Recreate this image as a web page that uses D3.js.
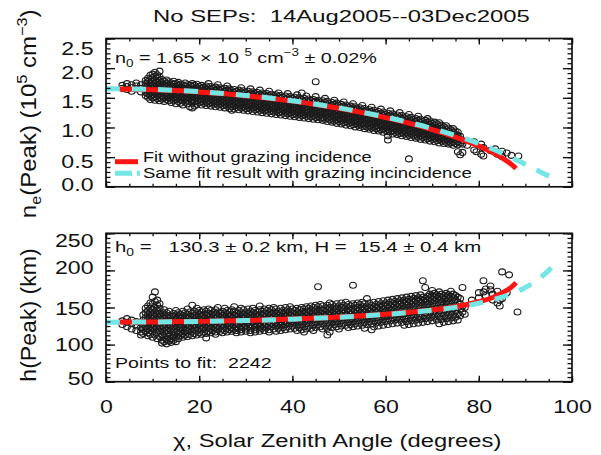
<!DOCTYPE html>
<html>
<head>
<meta charset="utf-8">
<script src="https://cdn.jsdelivr.net/npm/d3@7"></script>
<style>
  html, body { margin: 0; padding: 0; background: #fff; }
  svg { display: block; }
  text { font-family: "Liberation Sans", Arial, Helvetica, sans-serif; fill: #111; }
</style>
</head>
<body>
<svg id="chart" width="601" height="455"></svg>
<script>
// ---------------- data ----------------
const chiTicks = [0, 20, 40, 60, 80, 100];
const neTicks = [0, 0.5, 1.0, 1.5, 2.0, 2.5];
const hTicks = [50, 100, 150, 200, 250];

const titleText = "No SEPs:  14Aug2005--03Dec2005";
const xLabelText = "\u03c7, Solar Zenith Angle (degrees)";
const legendLabels = ["Fit without grazing incidence", "Same fit result with grazing incincidence"];
const pointsText = "Points to fit:  2242";

// peak density fit (10^5 cm^-3) without / with grazing incidence
const neFitChi = [3, 10, 15, 20, 25, 30, 35, 40, 45, 50, 55, 60, 65, 70, 75, 80, 83, 85, 87, 88];
const neFitVal = [1.649, 1.637, 1.622, 1.599, 1.571, 1.535, 1.493, 1.444, 1.387, 1.323, 1.250, 1.167, 1.073, 0.965, 0.839, 0.688, 0.576, 0.487, 0.378, 0.308];
const neGrazChi = [0, 10, 20, 30, 40, 50, 60, 65, 70, 75, 80, 85, 88, 90, 92, 95, 97];
const neGrazVal = [1.654, 1.642, 1.604, 1.540, 1.449, 1.330, 1.176, 1.085, 0.982, 0.864, 0.728, 0.568, 0.457, 0.379, 0.299, 0.182, 0.116];

// peak altitude fit (km) without / with grazing incidence
const hFitChi = [3, 10, 20, 30, 40, 50, 60, 65, 70, 75, 80, 83, 85, 87, 88];
const hFitVal = [130.3, 130.5, 131.3, 132.5, 134.4, 137.1, 141.0, 143.6, 146.8, 151.1, 157.8, 163.5, 169.5, 177.5, 183.5];
const hGrazChi = [0, 10, 20, 30, 40, 50, 60, 65, 70, 75, 80, 85, 88, 90, 92, 95, 97];
const hGrazVal = [130.2, 130.5, 131.2, 132.4, 134.3, 136.9, 140.7, 143.2, 146.3, 150.2, 155.8, 164.0, 171.0, 177.0, 184.5, 200.0, 214.0];

// measured peak density: [chi, n_e values at that chi ...]
const neScatter = [
  [3.5,1.66,1.71],[4.5,1.64,1.69,1.74],[5.5,1.61,1.67,1.72],[6.5,1.65,1.70,1.75],[7.5,1.60,1.66,1.72],
  [8.5,1.54,1.59,1.64,1.69,1.74,1.79],[9,1.51,1.57,1.62,1.67,1.72,1.77,1.83],[9.5,1.47,1.53,1.59,1.64,1.70,1.75,1.81,1.88],
  [10,1.50,1.55,1.61,1.66,1.72,1.78,1.84,1.90],[10.5,1.46,1.52,1.58,1.63,1.69,1.74,1.80,1.86,1.93],[11,1.49,1.55,1.60,1.66,1.71,1.77,1.83,1.89],
  [11.5,1.45,1.51,1.57,1.62,1.68,1.73,1.79,1.85,1.95],[12,1.48,1.53,1.59,1.64,1.70,1.75,1.81],[12.5,1.44,1.50,1.56,1.61,1.67,1.72,1.78],
  [13,1.47,1.52,1.58,1.63,1.69,1.74,1.80],[13.5,1.45,1.50,1.55,1.61,1.66,1.72,1.77],[14,1.42,1.48,1.53,1.59,1.64,1.70,1.75],
  [14.5,1.46,1.51,1.57,1.62,1.67,1.73,1.78],[15,1.40,1.47,1.52,1.58,1.63,1.69,1.74],[15.5,1.44,1.49,1.55,1.60,1.66,1.71,1.76],
  [16,1.41,1.47,1.52,1.57,1.63,1.68,1.73],[16.5,1.38,1.45,1.50,1.56,1.61,1.66,1.72],[17,1.43,1.48,1.54,1.59,1.64,1.70,1.75],
  [17.5,1.40,1.46,1.51,1.57,1.62,1.67,1.72],[18,1.35,1.44,1.49,1.55,1.60,1.65,1.71],[18.5,1.33,1.41,1.47,1.52,1.58,1.63,1.69,1.74],
  [19,1.36,1.44,1.50,1.55,1.61,1.66,1.71],[19.5,1.39,1.45,1.51,1.56,1.62,1.67,1.73],[20,1.42,1.47,1.53,1.58,1.64,1.69],
  [20.5,1.38,1.44,1.49,1.55,1.60,1.66,1.71],[21,1.41,1.46,1.52,1.57,1.63,1.68],[21.5,1.37,1.43,1.48,1.54,1.59,1.65,1.70],
  [22,1.40,1.45,1.51,1.56,1.62,1.67,1.74],[22.5,1.36,1.42,1.47,1.53,1.58,1.64,1.69],[23,1.39,1.44,1.50,1.55,1.61,1.66],
  [23.5,1.35,1.41,1.46,1.52,1.57,1.63,1.68],[24,1.38,1.43,1.49,1.54,1.60,1.65,1.72],[24.5,1.34,1.40,1.45,1.51,1.56,1.62,1.67],
  [25,1.37,1.42,1.48,1.53,1.59,1.64],[25.5,1.33,1.39,1.44,1.50,1.55,1.61,1.66],[26,1.36,1.41,1.47,1.52,1.58,1.63,1.70],
  [26.5,1.32,1.38,1.43,1.49,1.54,1.60,1.65],[27,1.29,1.35,1.40,1.46,1.51,1.57,1.62],[27.5,1.31,1.37,1.42,1.48,1.53,1.59,1.64],
  [28,1.34,1.39,1.45,1.50,1.56,1.61],[28.5,1.30,1.36,1.41,1.47,1.52,1.58,1.63],[29,1.33,1.38,1.44,1.49,1.55,1.60,1.67],
  [29.5,1.29,1.35,1.40,1.46,1.51,1.57,1.62],[30,1.32,1.37,1.43,1.48,1.54,1.59],[30.5,1.28,1.34,1.39,1.45,1.50,1.56,1.61],
  [31,1.31,1.36,1.42,1.47,1.53,1.58,1.65],[31.5,1.27,1.33,1.38,1.44,1.49,1.55,1.60],[32,1.30,1.35,1.41,1.46,1.52,1.57],
  [32.5,1.26,1.32,1.37,1.43,1.48,1.54,1.59],[33,1.29,1.34,1.40,1.45,1.51,1.56,1.63],[33.5,1.25,1.31,1.36,1.42,1.47,1.53,1.58],
  [34,1.28,1.33,1.39,1.44,1.50,1.55],[34.5,1.24,1.30,1.35,1.41,1.46,1.52,1.57],[35,1.27,1.32,1.38,1.43,1.49,1.54,1.61],
  [35.5,1.23,1.29,1.34,1.40,1.45,1.51,1.56],[36,1.26,1.31,1.36,1.42,1.47,1.53],[36.5,1.22,1.28,1.33,1.39,1.44,1.50,1.55],
  [37,1.25,1.30,1.35,1.41,1.46,1.52,1.58],[37.5,1.21,1.27,1.32,1.38,1.43,1.49,1.54],[38,1.24,1.29,1.34,1.40,1.45,1.51],
  [38.5,1.20,1.26,1.31,1.37,1.42,1.48,1.53],[39,1.23,1.28,1.33,1.39,1.44,1.50,1.57],[39.5,1.19,1.25,1.30,1.36,1.41,1.47,1.52],
  [40,1.22,1.27,1.32,1.38,1.43,1.49],[40.5,1.18,1.24,1.29,1.35,1.40,1.46,1.51],[41,1.21,1.26,1.31,1.37,1.42,1.48,1.55],
  [41.5,1.17,1.23,1.28,1.34,1.39,1.45,1.50],[42,1.20,1.25,1.30,1.36,1.41,1.47,1.58],[42.5,1.16,1.22,1.27,1.33,1.38,1.44,1.49],
  [43,1.19,1.24,1.29,1.35,1.40,1.46,1.53],[43.5,1.15,1.21,1.26,1.32,1.37,1.43,1.48],[44,1.18,1.23,1.28,1.34,1.39,1.45],
  [44.5,1.14,1.20,1.25,1.31,1.36,1.42,1.47],[45,1.17,1.22,1.27,1.33,1.38,1.44,1.52,1.77],[45.5,1.13,1.19,1.24,1.30,1.35,1.41,1.46],
  [46,1.16,1.21,1.26,1.32,1.37,1.43],[46.5,1.12,1.17,1.23,1.28,1.34,1.39,1.45],[47,1.14,1.20,1.25,1.31,1.36,1.42,1.49],
  [47.5,1.10,1.16,1.22,1.27,1.33,1.38,1.44],[48,1.13,1.18,1.24,1.29,1.35,1.40],[48.5,1.09,1.15,1.20,1.26,1.31,1.37,1.42],
  [49,1.11,1.17,1.22,1.28,1.33,1.39,1.46],[49.5,1.07,1.13,1.19,1.24,1.30,1.35,1.41],[50,1.10,1.15,1.21,1.26,1.32,1.37],
  [50.5,1.06,1.12,1.17,1.23,1.28,1.34,1.39],[51,1.08,1.14,1.19,1.25,1.30,1.36,1.43],[51.5,1.04,1.10,1.16,1.21,1.27,1.32,1.38],
  [52,1.07,1.12,1.18,1.23,1.29,1.34],[52.5,1.03,1.09,1.14,1.20,1.25,1.31,1.36],[53,1.05,1.11,1.16,1.22,1.27,1.33,1.40],
  [53.5,1.01,1.07,1.13,1.18,1.24,1.29,1.35],[54,1.04,1.09,1.15,1.20,1.26,1.31],[54.5,1.00,1.06,1.11,1.17,1.22,1.28,1.33],
  [55,1.02,1.08,1.13,1.19,1.24,1.30,1.37],[55.5,0.98,1.04,1.10,1.15,1.21,1.26,1.32],[56,1.01,1.06,1.12,1.17,1.23,1.28],
  [56.5,0.97,1.03,1.08,1.14,1.19,1.25,1.30],[57,0.99,1.05,1.10,1.16,1.21,1.27,1.34],[57.5,0.95,1.01,1.07,1.12,1.18,1.23,1.29],
  [58,0.98,1.03,1.09,1.14,1.20,1.25],[58.5,0.94,1.00,1.05,1.11,1.16,1.22,1.27],[59,0.96,1.02,1.07,1.13,1.18,1.24,1.31],
  [59.5,0.92,0.98,1.04,1.09,1.15,1.20,1.26],[60,0.95,1.00,1.06,1.11,1.17,1.22],[60.5,0.79,0.86,0.93,0.97,1.02,1.08,1.13,1.19,1.24],
  [61,0.93,0.99,1.04,1.10,1.15,1.21,1.28],[61.5,0.89,0.95,1.01,1.06,1.12,1.17,1.23],[62,0.92,0.97,1.03,1.08,1.14,1.19],
  [62.5,0.88,0.94,0.99,1.05,1.10,1.16,1.21],[63,0.90,0.96,1.01,1.07,1.12,1.18,1.25],[63.5,0.86,0.92,0.98,1.03,1.09,1.14,1.20],
  [64,0.89,0.94,1.00,1.05,1.11,1.16],[64.5,0.85,0.91,0.96,1.02,1.07,1.13,1.18],[65,0.47,0.87,0.93,0.98,1.04,1.09,1.15,1.22],
  [65.5,0.83,0.89,0.95,1.00,1.06,1.11,1.17],[66,0.86,0.91,0.97,1.02,1.08,1.13],[66.5,0.82,0.88,0.93,0.99,1.04,1.10,1.15],
  [67,0.84,0.90,0.95,1.01,1.06,1.12,1.19],[67.5,0.80,0.86,0.92,0.97,1.03,1.08,1.14],[68,0.83,0.88,0.94,0.99,1.05,1.10],
  [68.5,0.79,0.85,0.90,0.96,1.01,1.07,1.12],[69,0.81,0.87,0.92,0.98,1.03,1.09,1.15],[69.5,0.77,0.83,0.89,0.94,1.00,1.05,1.11],
  [70,0.80,0.85,0.91,0.96,1.02,1.07],[70.5,0.76,0.82,0.87,0.93,0.98,1.04,1.09],[71,0.78,0.84,0.89,0.95,1.00,1.06],
  [71.5,0.74,0.80,0.86,0.91,0.97,1.02,1.08],[72,0.77,0.82,0.88,0.93,0.99,1.04],[72.5,0.73,0.79,0.84,0.90,0.95,1.01],
  [73,0.75,0.81,0.86,0.92,0.97,1.03],[73.5,0.72,0.77,0.83,0.88,0.94,0.99],[74,0.74,0.79,0.85,0.90,0.96],
  [74.5,0.70,0.76,0.81,0.87,0.92,0.98],[75,0.73,0.78,0.84,0.89,0.94],[75.5,0.59,0.71,0.76,0.82,0.87,0.92],
  [76,0.54,0.74,0.80,0.85],[76.5,0.58,0.72,0.78],[77.5,0.70],[79,0.62,0.76],[79.5,0.59],[80.5,0.72,0.55],
  [81,0.52,0.66],[82.5,0.61],[83.5,0.59,0.64],[84,0.55],[85,0.60,0.51],[86,0.57],[87,0.53],[88.5,0.52]
];

// measured peak altitude: [chi, h values (km) at that chi ...]
const hScatter = [
  [3.5,127,132],[4.5,124,130,135],[5.5,121,128,133],[6.5,119,125,131],[7.5,113,117,123,129],
  [8,115,121,127,133,140],[8.5,118,124,130,136,143,149],[9,112,116,122,128,134,140,146,152],
  [9.5,114,119,125,131,137,143,149,156],[10,110,117,123,129,135,141,147,155,164],[10.5,113,120,126,132,138,144,150,158,171],
  [11,108,116,122,128,134,140,146,153,160],[11.5,111,118,124,130,136,142,149,155],[12,102,106,114,120,126,132,138,144],
  [12.5,104,110,117,123,129,135,141,147],[13,101,107,113,119,125,131,137,143],[13.5,105,111,116,122,127,133,139,145],
  [14,103,108,114,120,126,132,138],[14.5,106,112,118,124,130,136,142],[15,104,110,116,122,128,134,140,146],
  [15.5,108,114,119,125,131,137,143],[16,112,117,123,129,135,141],[16.5,110,115,121,127,133,139,145],
  [17,113,119,125,131,137,143],[17.5,111,117,123,129,135,141,148],[18,114,120,126,132,138,144],
  [18.5,112,118,124,130,136,142,153],[19,115,121,127,133,139,145],[19.5,113,119,125,131,137,143,149],
  [20,116,122,128,134,140,146],[20.5,114,120,126,132,138,144],[21,117,123,129,135,141,147],
  [21.5,109,115,121,127,133,139,145],[22,118,124,130,136,142,148],[22.5,116,122,128,134,140,146],
  [23,119,125,131,137,143],[23.5,114,117,123,129,135,141,147],[24,120,126,132,138,144,150],
  [24.5,118,124,130,136,142],[25,116,121,127,133,139,145],[25.5,119,125,131,137,143,149],
  [26,117,122,128,134,140,146],[26.5,120,126,132,138,144],[27,118,123,129,135,141,147],
  [27.5,121,127,133,139,145,151],[28,116,119,124,130,136,142],[28.5,122,128,134,140,146],
  [29,117,120,125,131,137,143,149],[29.5,123,129,135,141,147],[30,118,121,126,132,138,144],
  [30.5,124,130,136,142,148],[31,116,119,122,127,133,139,145],[31.5,125,131,137,143,149],
  [32,117,120,123,128,134,140,146],[32.5,126,132,138,144],[33,118,121,124,129,135,141,147,152],
  [33.5,122,127,133,139,145],[34,119,125,130,136,142,148],[34.5,123,128,134,140,146],
  [35,117,120,126,131,137,143,149],[35.5,124,129,135,141,147],[36,121,127,132,138,144,150],
  [36.5,118,125,130,136,142,148],[37,122,128,133,139,145],[37.5,119,126,131,137,143,149],
  [38,123,129,134,140,146],[38.5,120,127,132,138,144,150],[39,124,130,135,141,147],
  [39.5,121,128,133,139,145,151],[40,125,131,136,142,148],[40.5,122,129,134,140,146],
  [41,119,126,132,137,143,149],[41.5,123,130,135,141,147],[42,120,127,133,138,144,150],
  [42.5,117,124,131,136,142,148],[43,121,128,134,139,145,151],[43.5,125,132,137,143,149],
  [44,122,129,135,140,146,152],[44.5,119,126,133,138,144,150],[45,123,130,136,141,147,153],
  [45.5,127,134,139,145,151,178],[46,124,131,137,142,148,154],[46.5,121,128,135,140,146,152],
  [47,125,132,138,143,149],[47.5,113,122,129,136,141,147,153],[48,117,126,133,139,144,150,156],
  [48.5,123,130,137,142,148,154],[49,127,134,140,145,151],[49.5,124,131,138,143,149,155],
  [50,121,128,135,141,146,152],[50.5,125,132,139,144,150,156],[51,129,136,142,147,153],
  [51.5,126,133,140,145,151,157],[52,123,130,137,143,148,154],[52.5,127,134,141,146,152],
  [53,124,131,138,144,149,155,180],[53.5,128,135,142,147,153],[54,125,132,139,145,150,156],
  [54.5,129,136,143,148,154],[55,126,133,140,146,151,157],[55.5,122,130,137,144,149,155],
  [56,127,134,141,147,152,162],[56.5,131,138,145,150,156],[57,120,128,135,142,148,153],
  [57.5,124,132,139,146,151,157],[58,129,136,143,149,154],[58.5,125,133,140,147,152,158],
  [59,130,137,144,150,155],[59.5,126,134,141,148,153,159],[60,131,138,145,151,156],
  [60.5,127,135,142,149,154,160],[61,132,139,146,152,157],[61.5,128,136,143,150,155,161],
  [62,133,140,147,153,158],[62.5,129,137,144,151,156,162],[63,134,141,148,154,159],
  [63.5,130,138,145,152,157,163],[64,126,135,142,149,155,160],[64.5,131,139,146,153,158,164],
  [65,127,136,143,150,156,161],[65.5,132,140,147,154,159,165],[66,128,137,144,151,157,162],
  [66.5,133,141,148,155,160,166],[67,129,138,145,152,158,163],[67.5,134,142,149,156,161,167],
  [68,130,139,146,153,159,164,186],[68.5,135,143,150,157,162,177],[69,131,140,147,154,160,165],
  [69.5,136,144,151,158,163,168],[70,132,141,148,155,161,166,173],[70.5,137,145,152,159,164,169],
  [71,133,142,149,156,162,167],[71.5,128,138,146,153,160,165,171],[72,134,143,150,157,163,168],
  [72.5,130,139,147,154,161,166],[73,135,144,151,158,164,169],[73.5,131,140,148,155,162,167],
  [74,136,145,152,159,165,172],[74.5,132,141,149,156,163,168],[75,137,146,153,160,166],
  [75.5,133,142,150,157,164],[76,139,148,155,162],[76.5,144,152,177],[77,141,150],
  [78.5,160],[80,163,170],[81,186,171],[81.5,175,166],[82.5,174,179],[83,168,160],
  [84,165,156,172],[84.5,152,160],[85,198,162],[86,170],[86.5,194],[88.3,144]
];

// ---------------- layout ----------------
const svg = d3.select("#chart");
const X0 = 106, X1 = 572;
const x = d3.scaleLinear().domain([0, 100]).range([X0, X1]);
const INK = "#111";
const RED = "#ff1414";
const CYAN = "#74e6e3";

// text with optional sub/superscripts, stretched to a given advance width
function placeText(parent, opt, pieces) {
  const g = parent.append("g");
  const t = g.append("text")
    .attr("font-size", opt.size)
    .attr("text-anchor", opt.anchor || "start")
    .attr("xml:space", "preserve")
    .style("white-space", "pre");
  let shift = 0;
  pieces.forEach(([s, kind]) => {
    const target = kind === "sub" ? opt.size * 0.28 : kind === "sup" ? -opt.size * 0.42 : 0;
    t.append("tspan")
      .attr("dy", target - shift)
      .attr("font-size", kind ? opt.size * 0.68 : opt.size)
      .text(s);
    shift = target;
  });
  const w = t.node().getBBox().width;
  const sx = opt.width ? opt.width / w : 1;
  g.attr("transform", `translate(${opt.x},${opt.y}) rotate(${opt.rotate || 0}) scale(${sx},${opt.hs || 1})`);
  return g;
}

function styleTicks(sel, width) {
  sel.select(".domain").remove();
  sel.selectAll(".tick line").attr("stroke", INK).attr("stroke-width", width);
}

const panels = [
  {
    top: 38.5, bottom: 186.8, domain: [0, 2.5], ticks: neTicks, minorStep: 0.5 / 6,
    fmt: d3.format(".1f"), nudge: [-3, 3.4, 2.2, 3.3, 4, 9],
    scatter: neScatter, fit: [neFitChi, neFitVal], graz: [neGrazChi, neGrazVal], xLabels: false
  },
  {
    top: 233.3, bottom: 381.7, domain: [50, 250], ticks: hTicks, minorStep: 50 / 8,
    fmt: d3.format("d"), nudge: [-3.4, -0.4, 0, -3.7, 6.7],
    scatter: hScatter, fit: [hFitChi, hFitVal], graz: [hGrazChi, hGrazVal], xLabels: true
  }
];

panels.forEach(p => {
  const y = d3.scaleLinear().domain(p.domain).range([p.bottom, p.top]);
  const g = svg.append("g");

  // observations
  const pts = p.scatter.flatMap(([c, ...vals]) => vals.map(v => [c, v]));
  g.append("g").selectAll("ellipse").data(pts).join("ellipse")
    .attr("cx", d => x(d[0])).attr("cy", d => y(d[1]))
    .attr("rx", 3.4).attr("ry", 3.0)
    .attr("fill", "none").attr("stroke", "#1c1c1c").attr("stroke-width", 1.1);

  // fit curves
  const line = d3.line().x(d => x(d[0])).y(d => y(d[1])).curve(d3.curveCatmullRom);
  g.append("path").datum(d3.zip(...p.fit)).attr("d", line)
    .attr("fill", "none").attr("stroke", RED).attr("stroke-width", 5);
  g.append("path").datum(d3.zip(...p.graz)).attr("d", line)
    .attr("fill", "none").attr("stroke", CYAN).attr("stroke-width", 5)
    .attr("stroke-dasharray", "14,12");

  // frame
  g.append("rect").attr("x", X0).attr("y", p.top).attr("width", X1 - X0).attr("height", p.bottom - p.top)
    .attr("fill", "none").attr("stroke", INK).attr("stroke-width", 1.7);

  const minor = d3.range(p.domain[0], p.domain[1] + 1e-9, p.minorStep);
  const xMinor = d3.range(0, 100.001, 5);

  // y ticks, left and right
  g.append("g").attr("transform", `translate(${X0},0)`)
    .call(d3.axisLeft(y).tickValues(minor).tickSize(-4.5).tickFormat(""))
    .call(s => styleTicks(s, 1.3));
  g.append("g").attr("transform", `translate(${X1},0)`)
    .call(d3.axisRight(y).tickValues(minor).tickSize(-4.5).tickFormat(""))
    .call(s => styleTicks(s, 1.3));
  g.append("g").attr("transform", `translate(${X1},0)`)
    .call(d3.axisRight(y).tickValues(p.ticks).tickSize(-9).tickFormat(""))
    .call(s => styleTicks(s, 1.4));
  const yl = g.append("g").attr("transform", `translate(${X0},0)`)
    .call(d3.axisLeft(y).tickValues(p.ticks).tickSize(-9).tickFormat(p.fmt))
    .call(s => styleTicks(s, 1.4));
  yl.attr("font-family", null).attr("font-size", null);
  yl.selectAll(".tick text")
    .attr("x", -10).attr("y", (d, i) => p.nudge[i]).attr("dy", "0.36em")
    .attr("font-size", 18.5).attr("text-anchor", "end")
    .attr("transform", "scale(1.25,1)");

  // x ticks, top and bottom
  g.append("g").attr("transform", `translate(0,${p.top})`)
    .call(d3.axisBottom(x).tickValues(xMinor).tickSize(3).tickFormat(""))
    .call(s => styleTicks(s, 1.3));
  g.append("g").attr("transform", `translate(0,${p.top})`)
    .call(d3.axisBottom(x).tickValues(chiTicks).tickSize(6).tickFormat(""))
    .call(s => styleTicks(s, 1.4));
  g.append("g").attr("transform", `translate(0,${p.bottom})`)
    .call(d3.axisBottom(x).tickValues(xMinor).tickSize(-3).tickFormat(""))
    .call(s => styleTicks(s, 1.3));
  const xb = g.append("g").attr("transform", `translate(0,${p.bottom})`)
    .call(d3.axisBottom(x).tickValues(chiTicks).tickSize(-6).tickFormat(p.xLabels ? d3.format("d") : ""))
    .call(s => styleTicks(s, 1.4));
  xb.attr("font-family", null).attr("font-size", null);
  xb.selectAll(".tick text")
    .attr("y", 31.6).attr("dy", 0).attr("font-size", 18.5)
    .attr("text-anchor", "middle").attr("transform", "scale(1.25,1)");
});

// ---------------- text ----------------
placeText(svg, { x: 153, y: 21.7, size: 17, width: 377 }, [[titleText]]);
placeText(svg, { x: 173, y: 446.7, size: 18.5, width: 328.5 }, [[xLabelText]]);

placeText(svg, { x: 35.5, y: 113.8, size: 17, anchor: "middle", rotate: -90, width: 209, hs: 1.25 },
  [["n"], ["e", "sub"], ["(Peak) (10"], ["5", "sup"], [" cm"], ["\u22123", "sup"], [")"]]);
placeText(svg, { x: 35.5, y: 315, size: 17, anchor: "middle", rotate: -90, width: 133.4, hs: 1.25 },
  [["h(Peak) (km)"]]);

placeText(svg, { x: 115, y: 62.7, size: 15, width: 262 },
  [["n"], ["0", "sub"], [" = 1.65 \u00d7 10 "], ["5", "sup"], [" cm"], ["\u22123", "sup"], [" \u00b1 0.02%"]]);
placeText(svg, { x: 115, y: 251.7, size: 15, width: 366.7 },
  [["h"], ["0", "sub"], [" =   130.3 \u00b1 0.2 km, H =  15.4 \u00b1 0.4 km"]]);
placeText(svg, { x: 115, y: 368.3, size: 15, width: 156.7 }, [[pointsText]]);

// legend
svg.append("line").attr("x1", 115).attr("x2", 138).attr("y1", 161.7).attr("y2", 161.7)
  .attr("stroke", RED).attr("stroke-width", 5);
svg.append("line").attr("x1", 115).attr("x2", 140).attr("y1", 173.3).attr("y2", 173.3)
  .attr("stroke", CYAN).attr("stroke-width", 5).attr("stroke-dasharray", "17,5,4,40");
placeText(svg, { x: 143, y: 162.3, size: 15, width: 229 }, [[legendLabels[0]]]);
placeText(svg, { x: 143, y: 178.3, size: 15, width: 329 }, [[legendLabels[1]]]);
</script>
</body>
</html>
